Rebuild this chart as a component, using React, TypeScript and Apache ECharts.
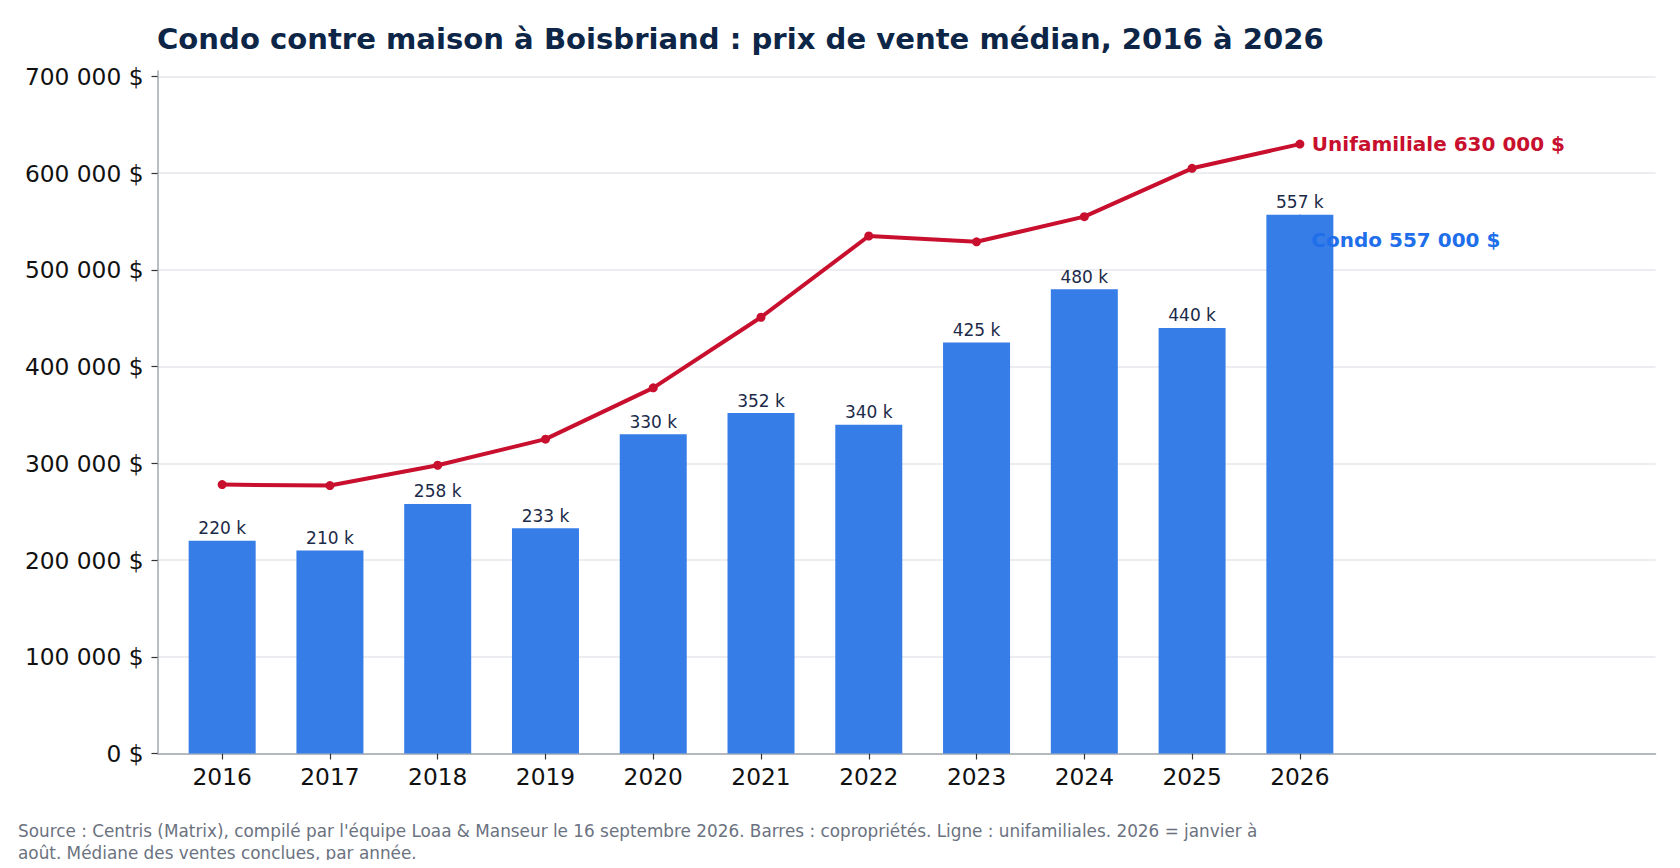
import React, { useEffect, useRef } from "react";
import * as echarts from "echarts";

// Median sale prices in Boisbriand, 2016 to 2026
const years = ["2016", "2017", "2018", "2019", "2020", "2021", "2022", "2023", "2024", "2025", "2026"];
const condoPrices = [220000, 210000, 258000, 233000, 330000, 352000, 340000, 425000, 480000, 440000, 557000];
const housePrices = [278000, 277000, 298000, 325000, 378000, 451000, 535000, 529000, 555000, 605000, 630000];
const yTicks = [0, 100000, 200000, 300000, 400000, 500000, 600000, 700000];

const TITLE = "Condo contre maison à Boisbriand : prix de vente médian, 2016 à 2026";
const SOURCE_NOTE =
  "Source : Centris (Matrix), compilé par l'équipe Loaa & Manseur le 16 septembre 2026. Barres : copropriétés. Ligne : unifamiliales. 2026 = janvier à\naoût. Médiane des ventes conclues, par année.";

const FONT = "DejaVu Sans";
const RED = "#c8102e";
const BLUE_BAR = "#367de8";
const BLUE_TEXT = "#1f6feb";
const NAVY = "#0d2647";

// thousands separated by spaces, French style
const groupDigits = (v: number) => String(Math.round(v)).replace(/\B(?=(\d{3})+(?!\d))/g, " ");

export default function App() {
  const ref = useRef<HTMLDivElement | null>(null);

  useEffect(() => {
    if (!ref.current) return;
    const chart = echarts.init(ref.current, null, { renderer: "svg" });
    const idx = years.map((_, i) => i);
    const lastIdx = years.length - 1;
    const yMax = Math.max(...housePrices) * 1.12;

    chart.setOption({
      animation: false,
      backgroundColor: "#ffffff",
      textStyle: { fontFamily: FONT },
      title: {
        text: TITLE,
        left: 157,
        top: 24,
        padding: 0,
        textStyle: { fontFamily: FONT, fontSize: 29.1, fontWeight: "bold", color: NAVY },
      },
      grid: { left: 157.5, right: 24.5, top: 71, bottom: 114.5, containLabel: false },
      xAxis: {
        type: "value",
        min: -0.6,
        max: 13.3,
        axisLine: { show: true, onZero: false, lineStyle: { color: "#a3a7ae", width: 1.5 } },
        axisTick: { show: true, customValues: idx, length: 6, lineStyle: { color: "#333333", width: 1.2 } },
        axisLabel: {
          customValues: idx,
          formatter: (v: number) => years[Math.round(v)] ?? "",
          fontFamily: FONT,
          fontSize: 23.3,
          color: "#111111",
          margin: 11,
        },
        splitLine: { show: false },
      },
      yAxis: {
        type: "value",
        min: 0,
        max: yMax,
        axisLine: { show: true, onZero: false, lineStyle: { color: "#a3a7ae", width: 1.5 } },
        axisTick: { show: true, customValues: yTicks, length: 6, lineStyle: { color: "#333333", width: 1.2 } },
        axisLabel: {
          customValues: yTicks,
          formatter: (v: number) => `${groupDigits(v)} $`,
          fontFamily: FONT,
          fontSize: 23.3,
          color: "#111111",
          margin: 14,
        },
        splitLine: { show: true, lineStyle: { color: "#e4e7eb", width: 1.5 } },
      },
      series: [
        {
          name: "Condo",
          type: "bar",
          data: condoPrices.map((v, i) => [i, v]),
          barWidth: 67,
          itemStyle: { color: BLUE_BAR },
          label: {
            show: true,
            position: "top",
            distance: 4,
            formatter: (p: any) => `${Math.round(p.value[1] / 1000)} k`,
            fontFamily: FONT,
            fontSize: 17,
            color: "#1b2a48",
          },
          z: 2,
        },
        {
          name: "Unifamiliale",
          type: "line",
          data: housePrices.map((v, i) => [i, v]),
          symbol: "circle",
          symbolSize: 9,
          showSymbol: true,
          lineStyle: { color: RED, width: 4 },
          itemStyle: { color: RED },
          endLabel: {
            show: true,
            formatter: () => `Unifamiliale ${groupDigits(housePrices[lastIdx])} $`,
            fontFamily: FONT,
            fontSize: 20,
            fontWeight: "bold",
            color: RED,
            distance: 12,
          },
          z: 4,
        },
        {
          // callout for the latest condo median, sitting just below the bar top
          name: "Condo note",
          type: "scatter",
          data: [[lastIdx, condoPrices[lastIdx]]],
          symbolSize: 1,
          itemStyle: { color: BLUE_BAR, opacity: 1 },
          label: {
            show: true,
            position: "right",
            distance: 11,
            offset: [0, 25],
            formatter: () => `Condo ${groupDigits(condoPrices[lastIdx])} $`,
            fontFamily: FONT,
            fontSize: 20,
            fontWeight: "bold",
            color: BLUE_TEXT,
            opacity: 1,
          },
          z: 5,
        },
      ],
      graphic: [
        {
          type: "text",
          left: 18,
          top: 820,
          style: {
            text: SOURCE_NOTE,
            fontFamily: FONT,
            fontSize: 16.85,
            lineHeight: 22,
            fill: "#6b7280",
          },
        },
      ],
    });

    return () => chart.dispose();
  }, []);

  return <div ref={ref} style={{ width: 1680, height: 868, margin: -8 }} />;
}
